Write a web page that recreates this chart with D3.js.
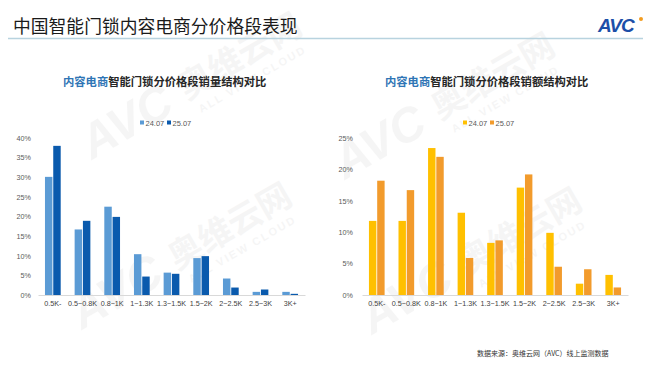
<!DOCTYPE html>
<html><head><meta charset="utf-8">
<script src="https://cdn.jsdelivr.net/npm/d3@7/dist/d3.min.js"></script>
<style>
html,body{margin:0;padding:0;background:#fff;}
svg{display:block;font-family:"Liberation Sans","Noto Sans CJK SC",sans-serif;}
</style></head>
<body><svg id="c" width="652" height="367"></svg>
<script>
const categories = ["0.5K-","0.5~0.8K","0.8~1K","1~1.3K","1.3~1.5K","1.5~2K","2~2.5K","2.5~3K","3K+"];
const seriesNames = ["24.07","25.07"];
const volume2407 = [30.1,16.7,22.5,10.4,5.7,9.4,4.2,0.8,0.8];
const volume2507 = [38.0,18.9,19.9,4.7,5.4,9.9,1.9,1.4,0.3];
const value2407 = [11.8,11.8,23.4,13.1,8.3,17.1,9.9,1.8,3.2];
const value2507 = [18.2,16.7,22.0,5.9,8.7,19.2,4.5,4.1,1.2];
const volumeTicks = [0,5,10,15,20,25,30,35,40];
const valueTicks = [0,5,10,15,20,25];
const mainTitle = "中国智能门锁内容电商分价格段表现";
const leftTitleA = "内容电商", leftTitleB = "智能门锁分价格段销量结构对比";
const rightTitleA = "内容电商", rightTitleB = "智能门锁分价格段销额结构对比";
const sourceText = "数据来源：奥维云网（AVC）线上监测数据";

const svg = d3.select("#c");
const cjk = '"Noto Sans CJK SC","Liberation Sans",sans-serif';

// watermarks
function watermark(x, y, s) {
  const g = svg.append("g").attr("transform", `translate(${x},${y}) rotate(-30) scale(${s})`).attr("fill", "#000").attr("opacity", 0.035);
  g.append("text").attr("x", 0).attr("y", 0).attr("font-size", 48).attr("font-weight", "bold").attr("font-style","italic").text("AVC");
  g.append("text").attr("x", 112).attr("y", -4).attr("font-size", 34).attr("font-weight", "bold").style("font-family", cjk).text("奥维云网");
  g.append("text").attr("x", 118).attr("y", 14).attr("font-size", 11).attr("font-weight", "bold").attr("letter-spacing", 2).text("ALL VIEW CLOUD");
}
watermark(92, 160, 1.0);
watermark(82, 330, 1.0);
watermark(345, 180, 1.0);
watermark(372, 335, 1.0);

// header
svg.append("text").attr("x", 13).attr("y", 33).attr("font-size", 17.8).attr("fill", "#1a1a1a").style("font-family", cjk).text(mainTitle);
svg.append("line").attr("x1", 8).attr("x2", 643).attr("y1", 38.5).attr("y2", 38.5).attr("stroke", "#b8d3df").attr("stroke-width", 1.5);
// logo
const logo = svg.append("g");
logo.append("text").attr("x", 598).attr("y", 32).attr("font-size", 19).attr("font-weight", "bold").attr("font-style","italic").attr("fill", "#1c4fa8").attr("letter-spacing", -1).text("AVC");
logo.append("circle").attr("cx", 641).attr("cy", 19).attr("r", 2).attr("fill", "#f39c1f");

svg.append("text").attr("x", 477).attr("y", 356).attr("font-size", 7).attr("fill", "#333").style("font-family", cjk).text(sourceText);

function chart(opts) {
  const g = svg.append("g");
  const x = d3.scaleBand().domain(categories).range([opts.x0, opts.x1]).paddingInner(0.47).paddingOuter(0.235);
  const x1 = d3.scaleBand().domain(seriesNames).range([0, x.bandwidth()]).paddingInner(0.1);
  const y = d3.scaleLinear().domain([0, d3.max(opts.ticks)]).range([295, opts.yTop]);

  // title
  const t = g.append("text").attr("x", opts.titleX).attr("y", 86).attr("font-size", 11.3).attr("font-weight", "bold").style("font-family", cjk);
  t.append("tspan").attr("fill", "#2f75b5").text(opts.titleA);
  t.append("tspan").attr("fill", "#262626").text(opts.titleB);

  // legend
  seriesNames.forEach((s, i) => {
    const lx = opts.legendX + i * 27;
    g.append("rect").attr("x", lx).attr("y", 120.5).attr("width", 4).attr("height", 4).attr("fill", opts.colors[i]);
    g.append("text").attr("x", lx + 5.5).attr("y", 125.5).attr("font-size", 7.5).attr("fill", "#595959").text(s);
  });

  // y axis labels
  const ya = g.append("g").attr("transform", `translate(${opts.yLabelX},0)`).call(d3.axisLeft(y).tickValues(opts.ticks).tickFormat(d => d + "%").tickSize(0).tickPadding(0));
  ya.select(".domain").remove();
  ya.selectAll("text").attr("font-size", 7.2).attr("fill", "#595959").attr("font-family", '"Liberation Sans",sans-serif');

  // bars
  opts.series.forEach((vals, si) => {
    g.append("g").selectAll("rect").data(vals).join("rect")
      .attr("x", (d, i) => x(categories[i]) + x1(seriesNames[si]))
      .attr("y", d => y(d))
      .attr("width", x1.bandwidth())
      .attr("height", d => y(0) - y(d))
      .attr("fill", opts.colors[si]);
  });

  // x axis
  const xa = g.append("g").attr("transform", "translate(0,295)").call(d3.axisBottom(x).tickSize(0).tickPadding(6));
  xa.select(".domain").attr("stroke", "#d9d9d9").attr("stroke-width", 1);
  xa.selectAll("text").attr("font-size", 7.2).attr("fill", "#404040").attr("font-family", '"Liberation Sans",sans-serif');
}

chart({x0: 38, x1: 305, yTop: 138, ticks: volumeTicks, series: [volume2407, volume2507],
  colors: ["#5b9bd5", "#0a5aad"], titleX: 63, titleA: leftTitleA, titleB: leftTitleB, legendX: 140, yLabelX: 31});
chart({x0: 362, x1: 628, yTop: 138, ticks: valueTicks, series: [value2407, value2507],
  colors: ["#ffc000", "#f29b2c"], titleX: 385, titleA: rightTitleA, titleB: rightTitleB, legendX: 463, yLabelX: 353});
</script></body></html>
